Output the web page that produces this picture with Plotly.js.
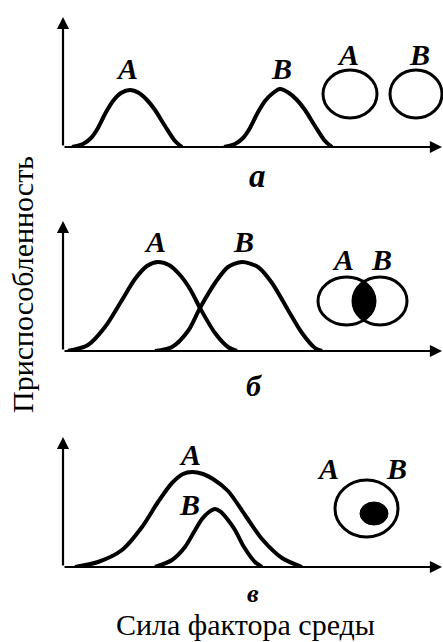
<!DOCTYPE html>
<html><head><meta charset="utf-8">
<script src="https://cdn.plot.ly/plotly-3.0.1.min.js"></script>
<style>html,body{margin:0;padding:0;background:#fff;}#chart{width:443px;height:642px;}</style>
</head><body><div id="chart"></div>
<script>
// Environmental factor strength (x) and fitness (y)
// Panel а: separate niches
const aX_A = [9, 20, 28, 35, 42, 50, 58, 67, 76, 84, 92, 102, 112, 119];
const aY_A = [0, 3, 9, 19, 33, 46, 54, 57, 54, 47, 37, 21, 6, 0];
const aX_B = [161, 172, 180, 187, 194, 202, 210, 217, 226, 234, 242, 252, 262, 269];
const aY_B = [0, 3, 9, 19, 33, 46, 54, 58, 54, 47, 37, 21, 6, 0];
// Panel б: overlapping niches
const bX_A = [5, 25, 42, 59, 72, 84, 95, 106, 117, 127, 137, 152, 165, 174];
const bY_A = [0, 6, 24, 51, 72, 85, 89, 86, 76, 62, 43, 18, 4, 0];
const bX_B = [92, 109, 125, 137, 152, 165, 179, 195, 209, 225, 239, 252, 259];
const bY_B = [0, 4, 20, 43, 68, 84, 89, 84, 68, 41, 18, 3, 0];
// Panel в: nested niches
const cX_A = [12, 35, 59, 79, 95, 109, 120, 129, 140, 150, 165, 182, 199, 219, 239];
const cY_A = [0, 5, 17, 40, 65, 84, 93, 95, 93, 88, 76, 52, 28, 9, 0];
const cX_B = [92, 109, 122, 131, 139, 146, 152, 158, 165, 172, 181, 192, 199];
const cY_B = [0, 7, 20, 35, 48, 55, 58, 55, 47, 37, 20, 5, 0];

const curveLabels = ['A', 'B'];
const panelLabels = ['а', 'б', 'в'];
const xTitle = 'Сила фактора среды';
const yTitle = 'Приспособленность';

const W = 443, H = 642;
const serif = 'Liberation Serif, Times New Roman, serif';
const line = {color: '#000', width: 4, shape: 'spline', smoothing: 0.8};

function tr(x, y, ax) {
  return {x: x, y: y, xaxis: 'x' + ax, yaxis: 'y' + ax, type: 'scatter', mode: 'lines',
          line: line, hoverinfo: 'skip', showlegend: false, cliponaxis: true};
}
const traces = [
  tr(aX_A, aY_A, ''), tr(aX_B, aY_B, ''),
  tr(bX_A, bY_A, '2'), tr(bX_B, bY_B, '2'),
  tr(cX_A, cY_A, '3'), tr(cX_B, cY_B, '3')
];

// pixel baselines of each panel
const baselines = [147, 351, 567];
const yH = 130, xR = 380;
const xDom = [63 / W, 1];
function ax(dom) {
  return {domain: dom, showgrid: false, zeroline: false, showticklabels: false,
          showline: false, ticks: '', fixedrange: true};
}
const layout = {
  width: W, height: H, margin: {l: 0, r: 0, t: 0, b: 0},
  paper_bgcolor: '#fff', plot_bgcolor: 'rgba(0,0,0,0)', showlegend: false,
  font: {family: serif, color: '#000'},
  shapes: [], annotations: []
};
const axNames = ['', '2', '3'];
baselines.forEach((b, i) => {
  const n = axNames[i];
  layout['xaxis' + n] = Object.assign(ax(xDom), {range: [0, xR], anchor: 'y' + n});
  layout['yaxis' + n] = Object.assign(ax([(H - b) / H, (H - b + yH) / H]), {range: [0, yH], anchor: 'x' + n});
  const xr = 'x' + n, yr = 'y' + n;
  // axes with arrows
  layout.annotations.push({xref: xr, yref: yr, axref: xr, ayref: yr, x: xR - 1, y: 0, ax: 0, ay: 0,
    text: '', showarrow: true, arrowhead: 2, arrowsize: 1.1, arrowwidth: 2.2, arrowcolor: '#000'});
  layout.annotations.push({xref: xr, yref: yr, axref: xr, ayref: yr, x: 0, y: yH, ax: 0, ay: 0,
    text: '', showarrow: true, arrowhead: 2, arrowsize: 1.1, arrowwidth: 2.2, arrowcolor: '#000'});
});

function lbl(t, xp, yp, size) {
  layout.annotations.push({xref: 'paper', yref: 'paper', x: xp / W, y: 1 - yp / H,
    xanchor: 'center', yanchor: 'middle', showarrow: false, borderpad: 0,
    text: '<b><i>' + t + '</i></b>', font: {family: serif, size: size || 30, color: '#000'}});
}
// panel а labels
lbl(curveLabels[0], 127, 68); lbl(curveLabels[1], 281, 68);
lbl(curveLabels[0], 348, 55); lbl(curveLabels[1], 419, 55);
lbl(panelLabels[0], 257, 176, 33);
// panel б labels
lbl(curveLabels[0], 155, 242); lbl(curveLabels[1], 243, 242);
lbl(curveLabels[0], 343, 259); lbl(curveLabels[1], 381, 259);
lbl(panelLabels[1], 254, 385, 30);
// panel в labels
lbl(curveLabels[0], 190, 454); lbl(curveLabels[1], 189, 504);
lbl(curveLabels[0], 328, 468); lbl(curveLabels[1], 396, 468);
lbl(panelLabels[2], 253, 593, 26);

// axis titles
layout.annotations.push({xref: 'paper', yref: 'paper', x: 22 / W, y: 1 - 285 / H, textangle: -90,
  xanchor: 'center', yanchor: 'middle', showarrow: false, text: yTitle,
  font: {family: serif, size: 30, color: '#000'}});
layout.annotations.push({xref: 'paper', yref: 'paper', x: 245 / W, y: 0,
  xanchor: 'center', yanchor: 'bottom', showarrow: false, borderpad: 0, text: xTitle,
  font: {family: serif, size: 30, color: '#000'}});

// niche diagrams
const circ = {color: '#000', width: 3};
layout.shapes.push(
  {type: 'circle', xref: 'x', yref: 'y', x0: 260, x1: 314, y0: 29, y1: 77, line: circ},
  {type: 'circle', xref: 'x', yref: 'y', x0: 327, x1: 379, y0: 29, y1: 77, line: circ},
  {type: 'path', xref: 'x2', yref: 'y2', path: 'M 300,69 Q 280,50 300,31 Q 322,50 300,69 Z',
   fillcolor: '#000', line: {color: '#000', width: 1}},
  {type: 'circle', xref: 'x2', yref: 'y2', x0: 255, x1: 312, y0: 26, y1: 74, line: circ},
  {type: 'circle', xref: 'x2', yref: 'y2', x0: 290, x1: 344, y0: 26, y1: 74, line: circ},
  {type: 'circle', xref: 'x3', yref: 'y3', x0: 272, x1: 335, y0: 30, y1: 87, line: circ},
  {type: 'circle', xref: 'x3', yref: 'y3', x0: 297, x1: 325, y0: 42, y1: 65, fillcolor: '#000', line: {color: '#000', width: 1}}
);

Plotly.newPlot('chart', traces, layout, {staticPlot: true, displayModeBar: false});
</script>
</body></html>
